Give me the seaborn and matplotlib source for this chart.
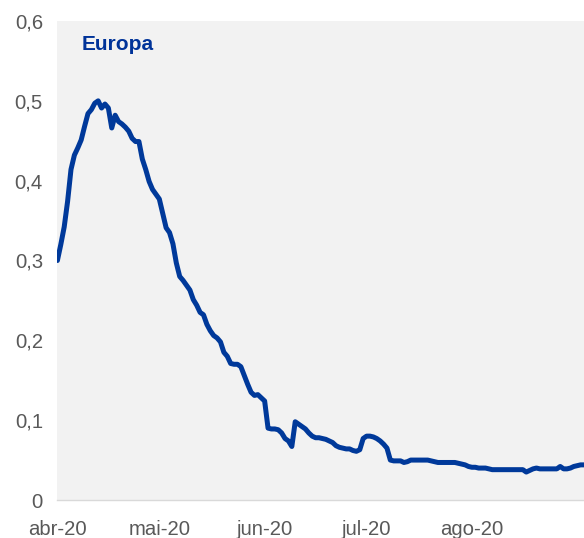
import matplotlib
matplotlib.use("Agg")
import matplotlib.pyplot as plt
import seaborn as sns
import pandas as pd

# ---- data ----
start_date = "2020-04-01"
values = [
    0.300, 0.320, 0.342, 0.374, 0.414, 0.432, 0.441, 0.451, 0.468, 0.484,
    0.489, 0.497, 0.500, 0.491, 0.496, 0.491, 0.466, 0.482, 0.474, 0.471,
    0.467, 0.462, 0.453, 0.449, 0.449, 0.427, 0.414, 0.399, 0.389, 0.383,
    0.377, 0.359, 0.341, 0.335, 0.321, 0.297, 0.280, 0.275, 0.269, 0.263,
    0.251, 0.244, 0.235, 0.232, 0.220, 0.212, 0.206, 0.203, 0.198, 0.185,
    0.180, 0.171, 0.170, 0.170, 0.167, 0.156, 0.145, 0.135, 0.131, 0.132,
    0.128, 0.124, 0.090, 0.089, 0.089, 0.088, 0.084, 0.077, 0.074, 0.067,
    0.098, 0.095, 0.092, 0.089, 0.084, 0.080, 0.078, 0.078, 0.077, 0.076,
    0.074, 0.072, 0.068, 0.066, 0.065, 0.064, 0.064, 0.062, 0.061, 0.063,
    0.077, 0.080, 0.080, 0.079, 0.077, 0.074, 0.070, 0.065, 0.050, 0.049,
    0.049, 0.049, 0.047, 0.048, 0.050, 0.050, 0.050, 0.050, 0.050, 0.050,
    0.049, 0.048, 0.047, 0.047, 0.047, 0.047, 0.047, 0.047, 0.046, 0.045,
    0.044, 0.042, 0.041, 0.041, 0.040, 0.040, 0.040, 0.039, 0.038, 0.038,
    0.038, 0.038, 0.038, 0.038, 0.038, 0.038, 0.038, 0.038, 0.035, 0.037,
    0.039, 0.040, 0.039, 0.039, 0.039, 0.039, 0.039, 0.039, 0.042, 0.039,
    0.039, 0.040, 0.042, 0.043, 0.044, 0.044,
]
month_ticks = ["2020-04-01", "2020-05-01", "2020-06-01", "2020-07-01", "2020-08-01"]
month_labels = ["abr-20", "mai-20", "jun-20", "jul-20", "ago-20"]
y_ticks = [0, 0.1, 0.2, 0.3, 0.4, 0.5, 0.6]
y_labels = ["0", "0,1", "0,2", "0,3", "0,4", "0,5", "0,6"]
title = "Europa"

dates = pd.date_range(start_date, periods=len(values), freq="D")
df = pd.DataFrame({"date": dates, "value": values})

# ---- style ----
sns.set_style("white")
plt.rcParams['font.family'] = ['Liberation Sans', 'DejaVu Sans']

line_color = "#00399a"
text_gray = "#595959"

fig = plt.figure(figsize=(5.84, 5.38), dpi=100)
ax = fig.add_axes([57.4 / 584, 38 / 538, (584 - 57.4) / 584, 479 / 538])

sns.lineplot(data=df, x="date", y="value", ax=ax, color=line_color,
             linewidth=3.6, solid_joinstyle="round", solid_capstyle="round")

ax.set_facecolor("#f2f2f2")
ax.set_xlim(dates[0], dates[-1])
ax.set_ylim(0, 0.6)
ax.set_xticks(pd.to_datetime(month_ticks))
ax.set_xticklabels(month_labels)
ax.set_yticks(y_ticks)
ax.set_yticklabels(y_labels)
ax.set_xlabel("")
ax.set_ylabel("")
ax.grid(False)

ax.tick_params(axis="both", length=0, labelsize=14.6, colors=text_gray)
ax.tick_params(axis="y", pad=10.4)
ax.tick_params(axis="x", pad=14.2)

for side in ["top", "right", "left"]:
    ax.spines[side].set_visible(False)
ax.spines["bottom"].set_color("#d9d9d9")
ax.spines["bottom"].set_linewidth(1.0)

ax.text(0.0467, 0.939, title, transform=ax.transAxes, fontsize=15,
        fontweight="bold", color="#003399", va="baseline", ha="left")

fig.savefig("out.png", dpi=100)
